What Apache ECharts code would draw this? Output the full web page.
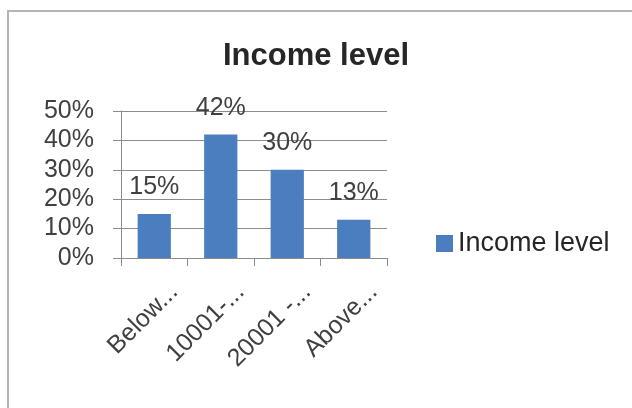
<!DOCTYPE html>
<html>
<head>
<meta charset="utf-8">
<script src="https://cdn.jsdelivr.net/npm/echarts@6/dist/echarts.min.js"></script>
<style>
html,body{margin:0;padding:0;background:#fff;}
#chart{width:632px;height:408px;}
</style>
</head>
<body>
<div id="chart"></div>
<script>
const titleText = "Income level";
const seriesName = "Income level";
const categories = ["Below...", "10001-...", "20001 -...", "Above..."];
const values = [0.15, 0.42, 0.30, 0.13];
const yTicks = [0, 0.1, 0.2, 0.3, 0.4, 0.5];

const FONT = "Liberation Sans";
const chart = echarts.init(document.getElementById('chart'), null, {renderer: 'canvas'});
const pct = v => Math.round(v * 100) + '%';

chart.setOption({
  backgroundColor: '#ffffff',
  animation: false,
  graphic: [{
    type: 'rect',
    shape: {x: 8, y: 11, width: 700, height: 500},
    style: {fill: 'none', stroke: '#b4b4b4', lineWidth: 2},
    silent: true
  }],
  title: {
    text: titleText,
    left: 'center',
    top: 36,
    textStyle: {fontFamily: FONT, fontSize: 31, fontWeight: 'bold', color: '#262626'}
  },
  legend: {
    data: [seriesName],
    left: 436,
    top: 230,
    padding: 0,
    itemWidth: 17,
    itemHeight: 17,
    itemGap: 8,
    icon: 'rect',
    textStyle: {fontFamily: FONT, fontSize: 27, color: '#262626'}
  },
  grid: {left: 121, right: 245, top: 111, bottom: 150, containLabel: false},
  xAxis: {
    type: 'category',
    data: categories,
    axisLine: {show: true, lineStyle: {color: '#8c8c8c', width: 1}},
    axisTick: {show: true, length: 8, lineStyle: {color: '#8c8c8c'}},
    axisLabel: {
      interval: 0,
      rotate: 45,
      margin: 50,
      fontFamily: FONT,
      fontSize: 25,
      color: '#404040',
      padding: [0, -28, 0, 0]
    },
    splitLine: {show: false}
  },
  yAxis: {
    type: 'value',
    min: yTicks[0],
    max: yTicks[yTicks.length - 1],
    interval: 0.1,
    axisLine: {show: true, lineStyle: {color: '#8c8c8c', width: 1}},
    axisTick: {show: true, length: 8, lineStyle: {color: '#8c8c8c'}},
    axisLabel: {
      margin: 27,
      fontFamily: FONT,
      fontSize: 25,
      color: '#404040',
      formatter: v => pct(v)
    },
    splitLine: {show: true, lineStyle: {color: '#8c8c8c', width: 1}}
  },
  series: [{
    name: seriesName,
    type: 'bar',
    data: values,
    barWidth: '50%',
    itemStyle: {color: '#4a7ebf'},
    label: {
      show: true,
      position: 'top',
      distance: 14,
      fontFamily: FONT,
      fontSize: 25,
      color: '#404040',
      formatter: p => pct(p.value)
    }
  }]
});
</script>
</body>
</html>
